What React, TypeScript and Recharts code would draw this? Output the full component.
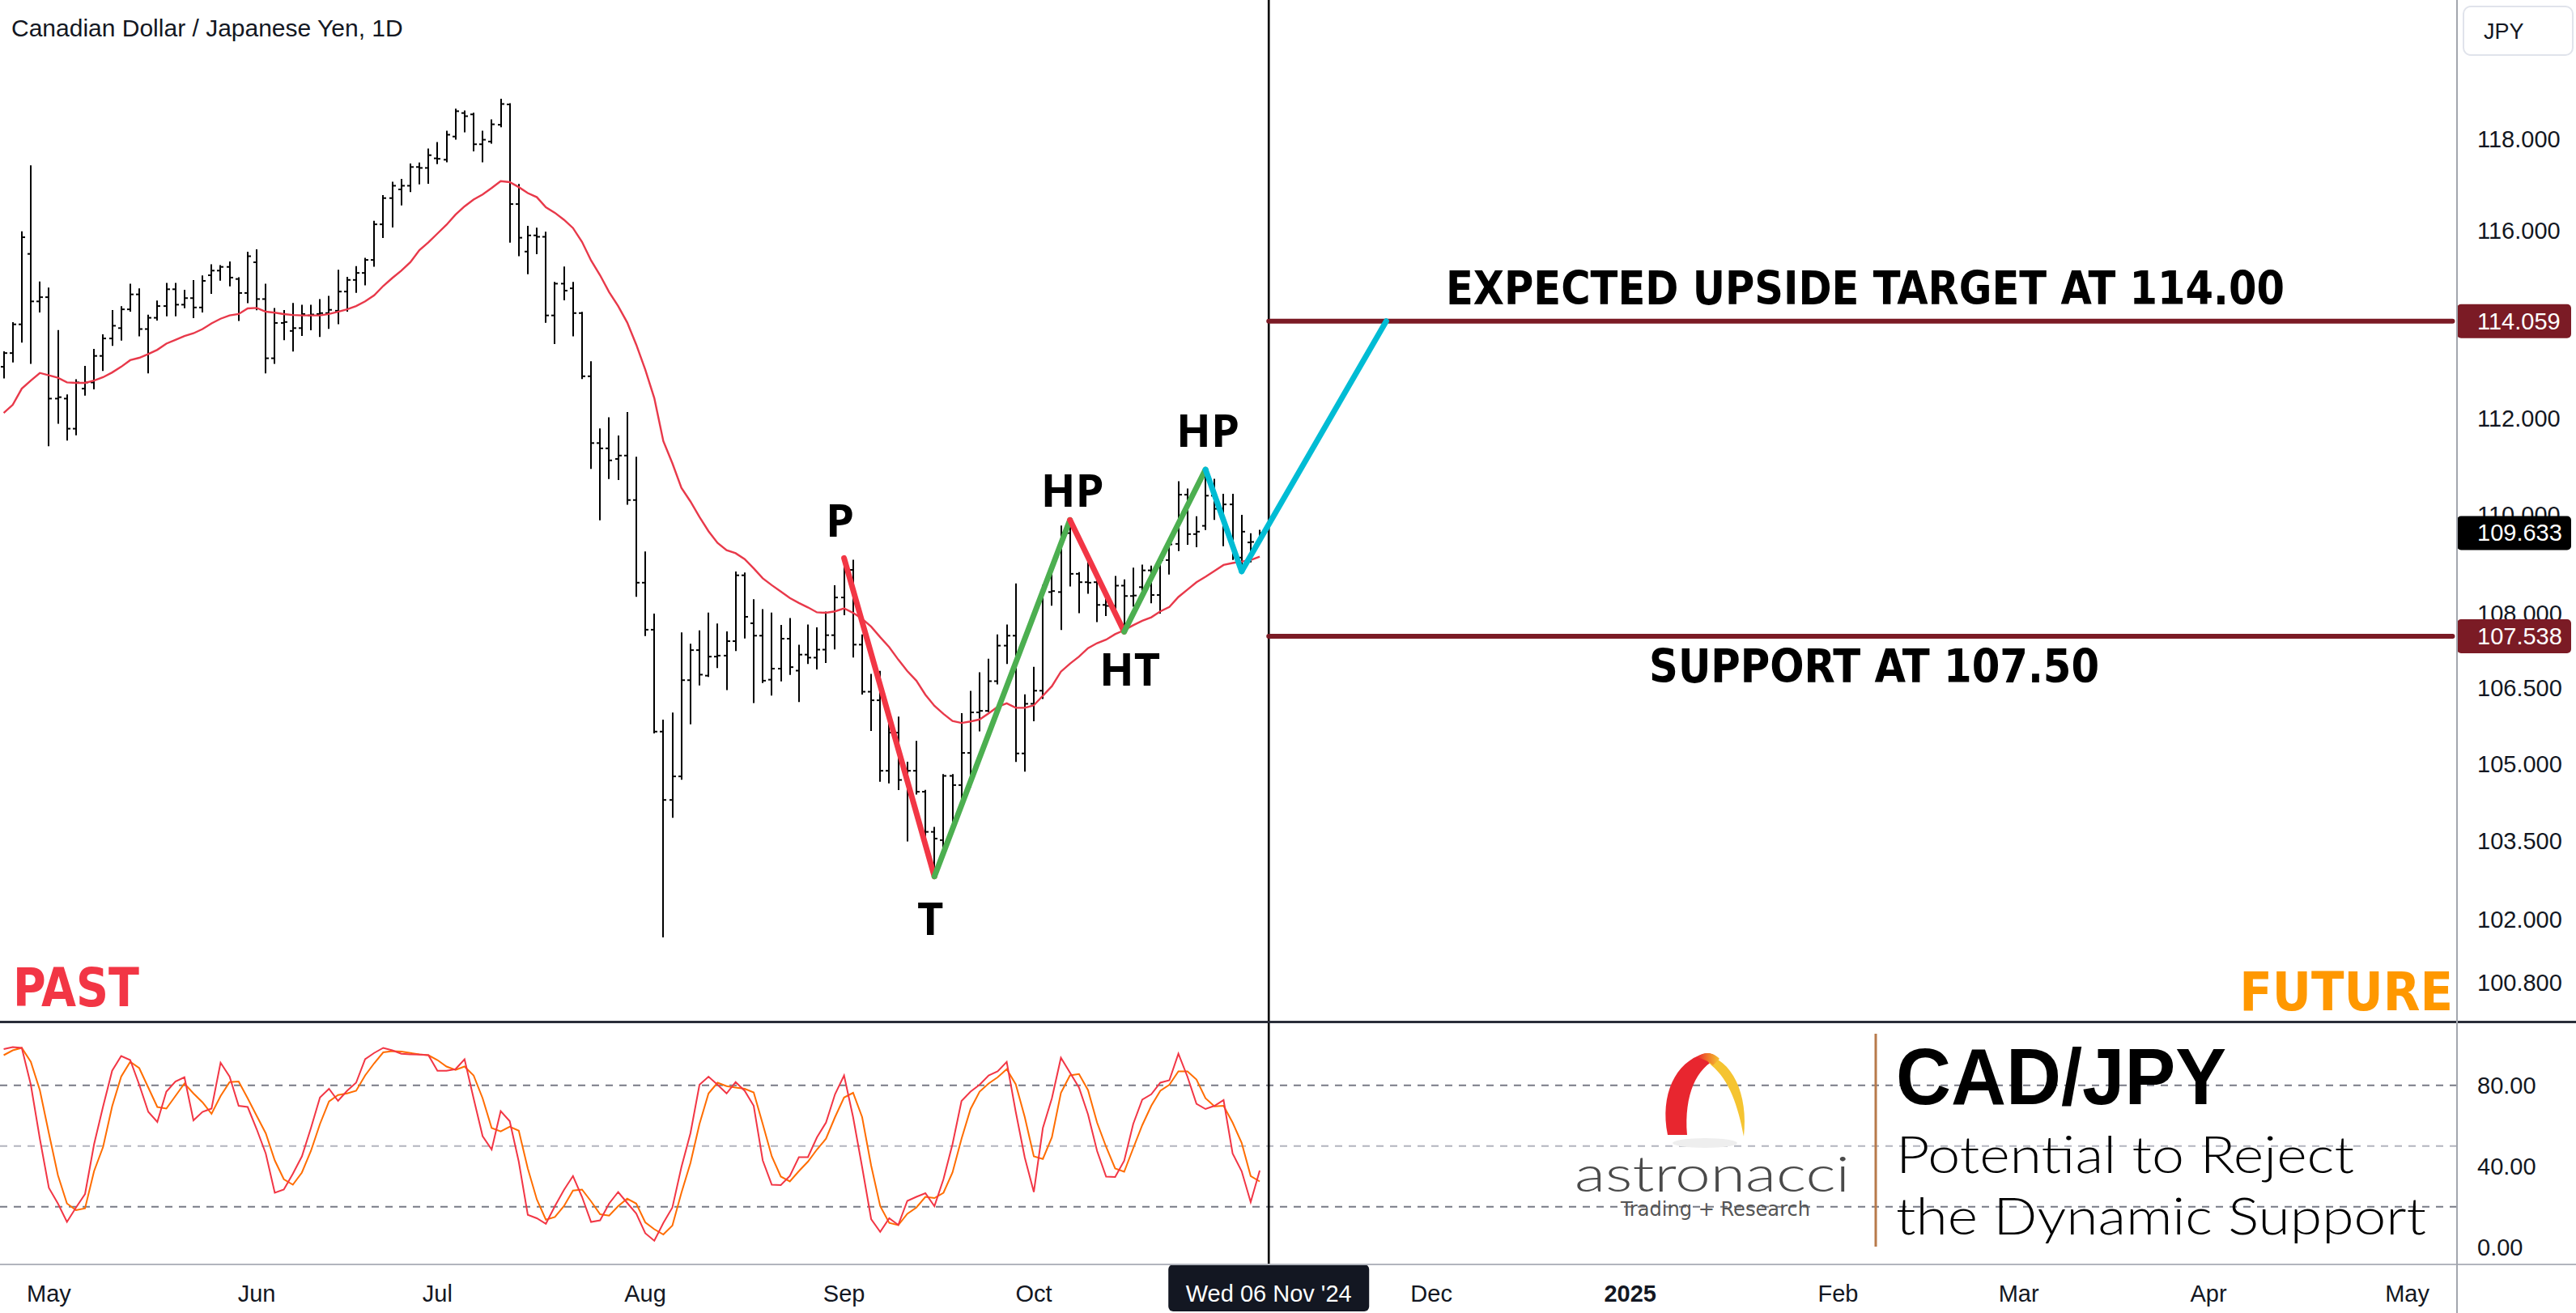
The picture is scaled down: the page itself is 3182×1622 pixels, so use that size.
import React from "react";
import {
  ComposedChart,
  Bar,
  Line,
  XAxis,
  YAxis,
  ReferenceLine,
  ReferenceDot,
} from "recharts";

// Daily CAD/JPY bars, one per weekday starting Wed 24 Apr 2024 (index 0)
const opens = [
  113.09, 113.38, 113.99, 115.5, 114.48, 114.57, 112.42, 112.42, 111.79, 112.63,
  112.76, 113.32, 113.69, 113.91, 114.31, 114.63, 113.89, 114.13, 114.38, 114.74,
  114.41, 114.55, 114.35, 115.04, 115.14, 115.22, 114.96, 114.66, 115.32, 114.53,
  113.27, 114.02, 113.85, 113.91, 114.18, 114.21, 114.23, 114.28, 114.69, 114.94,
  115.09, 115.37, 116.14, 116.71, 116.9, 116.98, 117.39, 117.37, 117.58, 117.55,
  118.06, 118.58, 118.55, 117.89, 117.95, 118.32, 118.77, 116.58, 115.55, 115.9,
  115.87, 114.18, 114.86, 114.76, 114.23, 112.89, 111.49, 111.38, 111.16, 111.23,
  110.31, 108.62, 107.67, 105.64, 104.3, 104.76, 106.66, 107.26, 106.75, 107.13,
  107.15, 107.44, 108.77, 107.8, 107.55, 106.67, 106.89, 107.49, 106.85, 107.17,
  107.11, 107.27, 107.56, 108.32, 108.88, 107.37, 106.43, 106.26, 104.87, 105.62,
  104.69, 104.87, 104.46, 103.68, 103.52, 104.77, 104.59, 105.22, 106.02, 106.05,
  106.64, 107.35, 107.55, 105.21, 106.19, 106.45, 108.43, 108.43, 109.63, 108.8,
  108.63, 108.63, 108.17, 108.15, 108.56, 108.35, 108.53, 108.87, 108.37, 109.08,
  109.41, 110.42, 109.61, 109.78, 110.4, 110.13, 110.22, 109.13, 109.44, 109.44,
];
const highs = [
  113.4, 114.02, 115.97, 117.41, 114.89, 114.76, 113.85, 112.49, 112.81, 113.09,
  113.45, 113.76, 114.28, 114.36, 114.84, 114.74, 114.18, 114.48, 114.86, 114.86,
  114.71, 114.92, 115.02, 115.26, 115.24, 115.32, 114.98, 115.53, 115.58, 114.84,
  114.32, 114.28, 114.43, 114.39, 114.39, 114.51, 114.58, 115.14, 114.99, 115.22,
  115.4, 116.2, 116.76, 117.05, 117.11, 117.45, 117.47, 117.78, 117.92, 118.17,
  118.66, 118.62, 118.57, 118.17, 118.42, 118.88, 118.78, 117.0, 116.09, 116.05,
  115.96, 114.88, 115.21, 114.88, 114.24, 113.19, 111.78, 112.01, 111.63, 112.12,
  111.19, 109.24, 107.98, 105.86, 106.0, 107.6, 107.37, 107.64, 108.0, 107.78,
  107.62, 108.83, 108.81, 108.27, 108.07, 108.0, 107.75, 107.89, 107.35, 107.76,
  107.7, 108.02, 108.55, 109.12, 109.07, 107.56, 106.77, 106.83, 106.07, 105.92,
  105.03, 105.44, 104.48, 103.76, 104.79, 104.79, 105.99, 106.43, 106.8, 107.07,
  107.56, 107.76, 108.59, 106.36, 106.91, 108.56, 108.98, 109.77, 109.85, 108.82,
  109.1, 108.74, 108.4, 108.74, 108.67, 108.91, 108.97, 108.95, 109.1, 109.41,
  110.68, 110.53, 109.96, 110.96, 110.73, 110.42, 110.42, 109.99, 109.61, 109.68,
];
const lows = [
  112.86, 113.2, 113.62, 113.17, 114.26, 111.44, 111.91, 111.56, 111.67, 112.5,
  112.63, 113.02, 113.55, 113.66, 114.28, 113.75, 112.97, 114.09, 114.18, 114.18,
  114.35, 114.14, 114.26, 114.66, 114.94, 114.82, 114.08, 114.46, 114.31, 112.97,
  113.17, 113.67, 113.43, 113.76, 113.88, 113.74, 113.91, 114.01, 114.28, 114.68,
  114.84, 115.24, 115.86, 116.09, 116.57, 116.86, 117.03, 117.04, 117.47, 117.51,
  118.01, 118.17, 117.75, 117.51, 117.92, 118.28, 115.76, 115.47, 115.08, 115.51,
  114.04, 113.59, 114.52, 113.75, 112.85, 110.97, 109.91, 110.76, 110.74, 110.23,
  108.35, 107.56, 105.62, 101.67, 103.97, 104.71, 105.8, 106.57, 106.74, 106.92,
  106.48, 107.26, 107.51, 106.22, 106.62, 106.37, 106.65, 106.78, 106.24, 107.0,
  106.89, 107.02, 107.29, 107.98, 107.13, 106.39, 105.67, 104.67, 104.64, 104.51,
  103.51, 104.42, 103.36, 102.82, 103.27, 103.68, 104.31, 104.56, 105.66, 106.04,
  106.59, 107.0, 105.06, 104.87, 105.86, 106.3, 108.17, 107.68, 108.56, 108.02,
  108.41, 107.84, 107.96, 107.98, 107.6, 108.15, 108.46, 108.22, 108.01, 108.8,
  109.28, 109.41, 109.36, 109.71, 109.92, 109.38, 109.1, 109.0, 109.05, 109.43,
];
const closes = [
  113.38, 113.99, 115.86, 114.48, 114.57, 112.42, 112.45, 111.79, 112.76, 112.76,
  113.32, 113.69, 113.96, 114.31, 114.63, 113.89, 114.13, 114.38, 114.74, 114.41,
  114.55, 114.35, 114.92, 115.14, 115.22, 114.99, 114.66, 115.45, 114.53, 113.27,
  114.02, 114.04, 113.91, 114.21, 114.2, 114.23, 114.3, 114.69, 114.94, 115.09,
  115.37, 116.14, 116.71, 116.98, 116.98, 117.39, 117.37, 117.65, 117.57, 118.1,
  118.62, 118.51, 117.89, 117.99, 118.33, 118.78, 116.58, 115.85, 115.9, 115.87,
  114.18, 114.86, 114.71, 114.23, 112.89, 111.49, 111.38, 111.13, 111.23, 110.31,
  108.62, 107.67, 105.64, 104.3, 104.76, 106.66, 107.26, 106.77, 107.13, 107.15,
  107.44, 108.77, 107.93, 107.55, 106.65, 106.89, 107.49, 106.92, 107.17, 107.11,
  107.27, 107.56, 108.32, 108.88, 107.37, 106.43, 106.26, 104.87, 105.62, 104.69,
  104.87, 104.46, 103.68, 103.55, 104.77, 104.59, 105.22, 106.02, 106.05, 106.64,
  107.35, 107.55, 105.21, 106.19, 106.45, 108.53, 108.45, 109.63, 108.8, 108.63,
  108.62, 108.17, 108.15, 108.56, 108.35, 108.36, 108.87, 108.37, 109.08, 109.4,
  110.42, 109.61, 109.66, 110.4, 110.13, 110.22, 109.13, 109.66, 109.45, 109.633,
];
// red moving average drawn over the bars
const ma20 = [
  112.12, 112.29, 112.63, 112.8, 112.96, 112.91, 112.86, 112.76, 112.75, 112.75,
  112.8, 112.87, 112.97, 113.09, 113.23, 113.28, 113.36, 113.45, 113.58, 113.66,
  113.74, 113.8, 113.89, 114.01, 114.11, 114.18, 114.21, 114.33, 114.34, 114.26,
  114.24, 114.21, 114.19, 114.18, 114.18, 114.18, 114.21, 114.26, 114.31, 114.38,
  114.48, 114.61, 114.81, 114.98, 115.14, 115.32, 115.58, 115.75, 115.94, 116.13,
  116.35, 116.53, 116.68, 116.79, 116.93, 117.08, 117.06, 116.95, 116.82, 116.73,
  116.51, 116.39, 116.24, 116.06, 115.76, 115.36, 115.04, 114.68, 114.38, 114.03,
  113.56, 113.03, 112.43, 111.53, 111.07, 110.56, 110.28, 109.96, 109.67, 109.43,
  109.28, 109.22, 109.1, 108.91, 108.71, 108.57, 108.44, 108.31, 108.21, 108.12,
  108.02, 108.01, 108.04, 108.1, 108.01, 107.89, 107.73, 107.52, 107.32, 107.07,
  106.84, 106.65, 106.37, 106.15, 105.99, 105.85, 105.81, 105.84, 105.88, 106.0,
  106.13, 106.2, 106.11, 106.11, 106.16, 106.35, 106.54, 106.83, 106.99, 107.13,
  107.3, 107.4, 107.47, 107.58, 107.66, 107.76, 107.85, 107.92, 108.04, 108.13,
  108.33, 108.48, 108.63, 108.74, 108.86, 108.98, 109.02, 109.05, 109.08, 109.15,
];
// stochastic %K (red) and %D (orange)
const stochK = [
  97.9, 98.9, 98.5, 80.3, 53.6, 29.3, 21.6, 12.5, 19.6, 26.3,
  50.9, 69.6, 87.2, 94.5, 92.5, 80.3, 66.9, 61.9, 76.9, 81.9,
  84.0, 62.7, 66.9, 68.5, 91.2, 84.3, 69.9, 69.3, 58.3, 46.3,
  26.9, 28.5, 36.3, 44.9, 58.9, 74.0, 78.3, 72.3, 77.3, 81.3,
  92.9, 96.0, 98.5, 97.3, 95.6, 95.3, 95.2, 94.9, 87.2, 87.2,
  88.0, 92.9, 73.6, 54.9, 48.3, 67.3, 62.3, 42.3, 16.0, 14.3,
  11.6, 20.3, 28.3, 35.2, 24.9, 12.5, 13.3, 21.6, 27.3, 21.9,
  16.7, 6.9, 3.2, 12.0, 19.6, 39.6, 56.3, 80.3, 84.3, 80.3,
  76.0, 81.6, 77.3, 69.9, 42.9, 30.9, 30.7, 35.2, 44.5, 44.5,
  54.3, 61.6, 75.6, 84.9, 64.3, 39.6, 13.9, 7.6, 14.3, 11.0,
  22.9, 24.9, 26.7, 20.3, 33.6, 50.9, 72.3, 76.9, 80.3, 84.9,
  86.9, 91.6, 66.9, 44.3, 27.3, 58.9, 73.6, 93.6, 86.3, 78.9,
  65.6, 47.6, 34.9, 34.7, 42.7, 60.9, 72.9, 75.6, 81.3, 82.5,
  95.6, 84.3, 70.9, 68.3, 69.9, 72.7, 46.3, 37.6, 22.3, 37.9,
];
const stochD = [
  94.9, 97.3, 98.5, 91.6, 77.6, 56.3, 35.6, 21.6, 18.3, 19.2,
  37.6, 49.6, 69.6, 84.3, 91.6, 88.5, 78.9, 69.3, 68.5, 74.7,
  80.9, 76.0, 71.6, 65.9, 74.7, 81.6, 81.9, 73.6, 64.9, 56.3,
  42.9, 33.6, 30.9, 36.9, 47.6, 60.9, 72.0, 75.2, 76.0, 77.3,
  84.9, 90.9, 96.3, 96.9, 96.7, 96.0, 95.3, 94.9, 92.5, 89.3,
  87.6, 89.3, 84.9, 73.6, 58.9, 57.2, 59.6, 57.6, 38.9, 23.6,
  13.6, 14.9, 20.3, 28.0, 28.5, 22.7, 16.3, 15.6, 20.3, 24.0,
  21.6, 12.3, 8.9, 6.3, 10.7, 26.9, 41.6, 60.9, 76.0, 81.3,
  79.6, 78.9, 78.3, 76.5, 60.9, 44.9, 34.9, 32.5, 37.6, 42.3,
  48.3, 53.6, 64.3, 74.0, 76.3, 64.3, 40.3, 20.3, 12.0, 10.9,
  16.5, 19.6, 24.9, 24.3, 26.9, 36.9, 53.6, 68.3, 76.9, 80.9,
  84.0, 88.0, 80.5, 64.3, 44.9, 43.6, 54.3, 76.3, 84.9, 85.6,
  77.6, 61.6, 49.6, 38.9, 37.3, 48.9, 60.3, 69.9, 77.3, 80.3,
  86.9, 86.9, 82.9, 73.6, 69.6, 69.9, 61.6, 51.6, 35.2, 32.5,
];

// swing drawing: P -> T -> HP -> HT -> HP -> dip -> target
const swingIdx = [93, 103, 118, 124, 133, 137, 153];
const swingPrice = [109.12, 102.82, 109.9, 107.63, 110.94, 108.85, 114.059];
const swingText = ["P", "T", "HP", "HT", "HP"];

const levels = [114.059, 107.538];
const levelText = ["EXPECTED UPSIDE TARGET AT 114.00", "SUPPORT AT 107.50"];
const levelTextIdx = [206, 207];
const lastPrice = 109.633;

const priceTicks = [100.8, 102, 103.5, 105, 106.5, 108, 110, 112, 116, 118];
const stochTicks = [0, 40, 80];
const stochBands = [80, 50, 20];

const monthTicks = [5, 28, 48, 71, 93, 114, 158, 180, 203, 223, 244, 266];
const monthLabels = ["May", "Jun", "Jul", "Aug", "Sep", "Oct", "Dec", "2025", "Feb", "Mar", "Apr", "May"];
const CURSOR = 140;
const cursorLabel = "Wed 06 Nov '24";

const SLOTS = 272; // bars plus empty future space on the right

// ---- styling ----
const FONT = "'Liberation Sans', Arial, sans-serif";
const COND = "'DejaVu Sans Condensed', 'DejaVu Sans', sans-serif";
const LIGHT = "Lato, 'Open Sans', sans-serif";
const INK = "#131722";
const MAROON = "#7b1b25";
const segColor = ["#f23645", "#4caf50", "#f23645", "#4caf50", "#00bcd4", "#00bcd4"];
const swingDx = [-5, -5, 3, 7, 3];
const swingDy = [-26, 72, -16, 67, -28];
const levelColor = [MAROON, MAROON];
const levelTextDy = [-21, 57];
const levelTextLen = [1036, 556];

const CHART_W = 3183; // svg starts 1px left of the page
const AXIS_W = 147;
const MAIN_H = 1262;
const AXIS_TEXT_X = 3061;

const rows = Array.from({ length: SLOTS }, (_, i) => {
  const r: Record<string, any> = { i };
  if (i < opens.length) {
    r.range = [lows[i], highs[i]];
    r.o = opens[i];
    r.c = closes[i];
    r.ma = ma20[i];
    r.k = stochK[i];
    r.d = stochD[i];
  }
  for (let s = 0; s < swingIdx.length - 1; s++) {
    if (i === swingIdx[s]) r[`z${s}`] = swingPrice[s];
    if (i === swingIdx[s + 1]) r[`z${s}`] = swingPrice[s + 1];
  }
  return r;
});

function OhlcBar(props: any) {
  const { x, y, width, height } = props;
  const p = props.payload ?? props;
  if (p == null || p.o == null || !isFinite(y) || !isFinite(height)) return null;
  const [lo, hi] = p.range;
  const top = Math.min(y, y + height);
  const h = Math.abs(height);
  const span = Math.log(hi) - Math.log(lo);
  const yAt = (v: number) => (span > 0 ? top + (h * (Math.log(hi) - Math.log(v))) / span : top);
  const cx = Math.round(x + width / 2);
  return (
    <g stroke="#000" strokeWidth={2}>
      <line x1={cx} x2={cx} y1={top - 1} y2={top + h + 1} />
      <line x1={cx - 4} x2={cx} y1={yAt(p.o)} y2={yAt(p.o)} />
      <line x1={cx} x2={cx + 4} y1={yAt(p.c)} y2={yAt(p.c)} />
    </g>
  );
}

function PriceTick(props: any) {
  const { y, payload } = props;
  const v = payload.value as number;
  const li = levels.indexOf(v);
  const boxColor = li >= 0 ? levelColor[li] : v === lastPrice ? "#000" : null;
  if (boxColor) {
    return (
      <g>
        <rect x={3036} y={y - 21} width={141} height={42} rx={5} fill={boxColor} />
        <text x={AXIS_TEXT_X} y={y + 10} fill="#fff" fontSize={29} fontFamily={FONT}>
          {v.toFixed(3)}
        </text>
      </g>
    );
  }
  return (
    <text x={AXIS_TEXT_X} y={y + 10} fill={INK} fontSize={29} fontFamily={FONT}>
      {v.toFixed(3)}
    </text>
  );
}

function StochTick(props: any) {
  const { y, payload } = props;
  return (
    <text x={AXIS_TEXT_X} y={y + 10} fill={INK} fontSize={29} fontFamily={FONT}>
      {(payload.value as number).toFixed(2)}
    </text>
  );
}

function TimeTick(props: any) {
  const { x, payload } = props;
  const v = payload.value as number;
  if (v === CURSOR) {
    return (
      <g>
        <rect x={x - 124} y={300} width={248} height={58} rx={6} fill={INK} />
        <text x={x} y={346} fill="#fff" fontSize={29} fontFamily={FONT} textAnchor="middle">
          {cursorLabel}
        </text>
      </g>
    );
  }
  const label = monthLabels[monthTicks.indexOf(v)];
  return (
    <text
      x={x}
      y={346}
      fill={INK}
      fontSize={29}
      fontFamily={FONT}
      fontWeight={label === "2025" ? 700 : 400}
      textAnchor="middle"
    >
      {label}
    </text>
  );
}

const textAt = (text: string, dx: number, dy: number, style: Record<string, any>) => (props: any) => {
  const vb = props.viewBox || {};
  const cx = (vb.x ?? 0) + (vb.width ?? 0) / 2;
  const cy = (vb.y ?? 0) + (vb.height ?? 0) / 2;
  return (
    <text x={cx + dx} y={cy + dy} textAnchor="middle" {...style}>
      {text}
    </text>
  );
};

function MainChart() {
  return (
    <ComposedChart
      width={CHART_W}
      height={MAIN_H}
      data={rows}
      margin={{ top: 0, right: 0, bottom: 0, left: 0 }}
    >
      <XAxis dataKey="i" type="category" scale="band" hide height={0} />
      <YAxis
        orientation="right"
        width={AXIS_W}
        type="number"
        scale="log"
        domain={[100.07, 121.11]}
        allowDataOverflow
        ticks={[...priceTicks, ...levels, lastPrice]}
        interval={0}
        tick={(p: any) => <PriceTick {...p} />}
        axisLine={false}
        tickLine={false}
      />
      <ReferenceLine x={CURSOR} stroke="#000" strokeWidth={2.6} />
      <Line
        dataKey="ma"
        stroke="#e8394a"
        strokeWidth={2.4}
        dot={false}
        activeDot={false}
        isAnimationActive={false}
      />
      <Bar dataKey="range" shape={(p: any) => <OhlcBar {...p} />} isAnimationActive={false} />
      {levels.map((v, k) => (
        <ReferenceLine
          key={`lvl${k}`}
          segment={[
            { x: CURSOR, y: v },
            { x: SLOTS - 1, y: v },
          ]}
          stroke={levelColor[k]}
          strokeWidth={6}
          strokeLinecap="round"
          ifOverflow="visible"
        />
      ))}
      {segColor.map((c, s) => (
        <Line
          key={`z${s}`}
          dataKey={`z${s}`}
          stroke={c}
          strokeWidth={7}
          strokeLinecap="round"
          strokeLinejoin="round"
          dot={false}
          activeDot={false}
          connectNulls
          isAnimationActive={false}
        />
      ))}
      {swingText.map((t, s) => (
        <ReferenceDot
          key={`lab${s}`}
          x={swingIdx[s]}
          y={swingPrice[s]}
          r={1}
          fill="none"
          stroke="none"
          label={textAt(t, swingDx[s], swingDy[s], {
            fontSize: 56,
            fontWeight: 700,
            fontFamily: "'Open Sans', 'Liberation Sans', sans-serif",
            fill: "#000",
          })}
        />
      ))}
      {levels.map((v, k) => (
        <ReferenceDot
          key={`lt${k}`}
          x={levelTextIdx[k]}
          y={v}
          r={1}
          fill="none"
          stroke="none"
          label={textAt(levelText[k], 0, levelTextDy[k], {
            fontSize: 57,
            fontWeight: 700,
            fontFamily: COND,
            fill: "#000",
            textLength: levelTextLen[k],
            lengthAdjust: "spacingAndGlyphs",
          })}
        />
      ))}
    </ComposedChart>
  );
}

function StochChart() {
  return (
    <ComposedChart
      width={CHART_W}
      height={360}
      data={rows}
      margin={{ top: 1, right: 0, bottom: 0, left: 0 }}
    >
      <XAxis
        dataKey="i"
        type="category"
        scale="band"
        height={60}
        ticks={[...monthTicks, CURSOR]}
        interval={0}
        tick={(p: any) => <TimeTick {...p} />}
        axisLine={false}
        tickLine={false}
      />
      <YAxis
        orientation="right"
        width={AXIS_W}
        type="number"
        domain={[-8.5, 111.1]}
        allowDataOverflow
        ticks={stochTicks}
        interval={0}
        tick={(p: any) => <StochTick {...p} />}
        axisLine={false}
        tickLine={false}
      />
      {stochBands.map((b) => (
        <ReferenceLine
          key={b}
          y={b}
          stroke={b === 50 ? "#b2b5be" : "#787b86"}
          strokeWidth={2}
          strokeDasharray="9 8"
        />
      ))}
      <Bar dataKey="k" shape={() => null} isAnimationActive={false} />
      <Line dataKey="d" stroke="#ff6d00" strokeWidth={2} dot={false} activeDot={false} isAnimationActive={false} />
      <Line dataKey="k" stroke="#f23645" strokeWidth={2} dot={false} activeDot={false} isAnimationActive={false} />
      <ReferenceLine x={CURSOR} stroke="#000" strokeWidth={2.6} />
    </ComposedChart>
  );
}

function Overlay() {
  return (
    <svg
      width={3182}
      height={1622}
      style={{ position: "absolute", left: 0, top: 0, pointerEvents: "none" }}
    >
      <text x={14} y={45} fontSize={30} fontFamily={FONT} fill={INK}>
        Canadian Dollar / Japanese Yen, 1D
      </text>
      <rect x={3043} y={8} width={135} height={60} rx={9} fill="#fff" stroke="#e0e3eb" strokeWidth={2} />
      <text x={3068} y={48} fontSize={27} fontFamily={FONT} fill={INK}>
        JPY
      </text>
      <text x={16} y={1243} fontSize={66} fontWeight={700} fontFamily={COND} fill="#f23645" textLength={156} lengthAdjust="spacingAndGlyphs">
        PAST
      </text>
      <text x={3030} y={1248} fontSize={66} fontWeight={700} fontFamily={COND} fill="#ff9800" textAnchor="end">
        FUTURE
      </text>

      {/* astronacci logo: red and yellow arch */}
      <defs>
        <linearGradient id="archTop" x1="0" y1="0" x2="1" y2="0">
          <stop offset="0" stopColor="#e8262f" />
          <stop offset="0.5" stopColor="#f07a2a" />
          <stop offset="1" stopColor="#f5c431" />
        </linearGradient>
      </defs>
      <path
        d="M2060 1402 C2050 1352 2070 1312 2104 1302 C2112 1300 2118 1302 2122 1308 C2096 1318 2080 1352 2084 1402 Z"
        fill="#e8262f"
      />
      <path
        d="M2104 1302 C2140 1308 2160 1352 2154 1404 C2147 1366 2136 1334 2114 1316 C2110 1312 2106 1306 2104 1302 Z"
        fill="#f5c431"
      />
      <path d="M2096 1306 C2104 1299 2116 1299 2124 1308 L2116 1316 C2110 1310 2102 1308 2096 1306 Z" fill="url(#archTop)" />
      <ellipse cx={2106} cy={1412} rx={40} ry={6} fill="#eeeeee" />
      <text x={1945} y={1472} fontSize={62} fontFamily={LIGHT} fontWeight={300} fill="#4a4a4a" textLength={340} lengthAdjust="spacingAndGlyphs">
        astronacci
      </text>
      <text x={2002} y={1502} fontSize={24} fontFamily={COND} fill="#555" textLength={234} lengthAdjust="spacingAndGlyphs">
        Trading + Research
      </text>
      <line x1={2317} x2={2317} y1={1277} y2={1540} stroke="#b87a4b" strokeWidth={3} />
      <text x={2342} y={1364} fontSize={98} fontWeight={700} fontFamily={FONT} fill="#000" textLength={408} lengthAdjust="spacingAndGlyphs">
        CAD/JPY
      </text>
      <text x={2342} y={1449} fontSize={64} fontFamily={LIGHT} fontWeight={300} fill="#000" textLength={566} lengthAdjust="spacingAndGlyphs">
        Potential to Reject
      </text>
      <text x={2342} y={1525} fontSize={64} fontFamily={LIGHT} fontWeight={300} fill="#000" textLength={655} lengthAdjust="spacingAndGlyphs">
        the Dynamic Support
      </text>
    </svg>
  );
}

export default function App() {
  return (
    <div style={{ position: "absolute", left: 0, top: 0, width: 3182, height: 1622, background: "#fff", overflow: "hidden" }}>
      <div style={{ position: "absolute", left: -1, top: 0 }}>
        <MainChart />
      </div>
      <div style={{ position: "absolute", left: -1, top: 1262 }}>
        <StochChart />
      </div>
      {/* pane chrome */}
      <div style={{ position: "absolute", left: 0, top: 1261, width: 3182, height: 3, background: "#2a2e39" }} />
      <div style={{ position: "absolute", left: 0, top: 1561, width: 3182, height: 2, background: "#b2b5be" }} />
      <div style={{ position: "absolute", left: 3034, top: 0, width: 2, height: 1622, background: "#a3a6ae" }} />
      <Overlay />
    </div>
  );
}
